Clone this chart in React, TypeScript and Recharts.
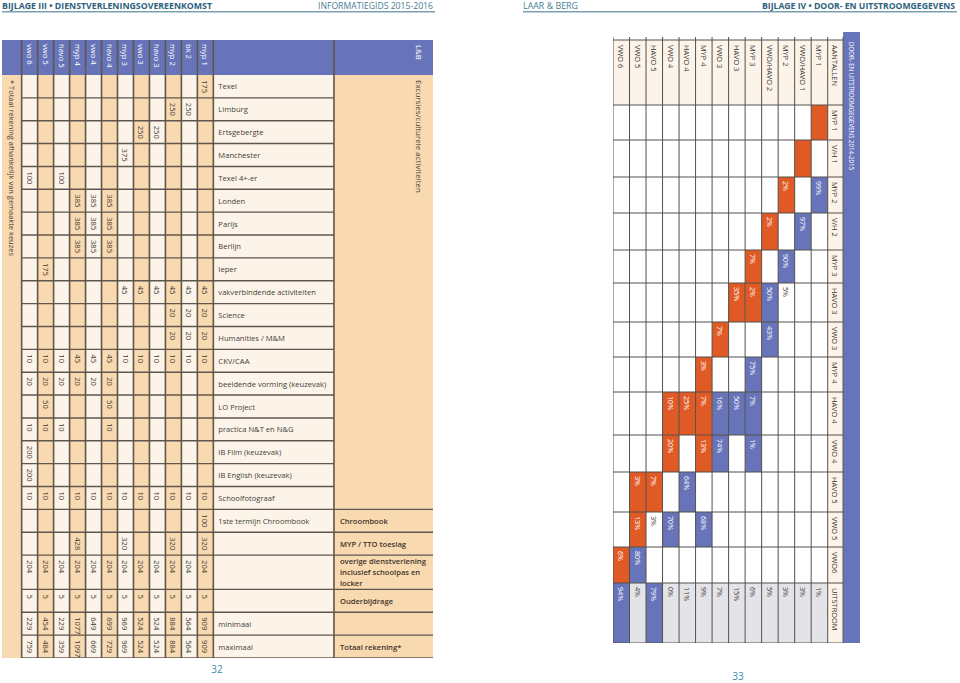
import React from "react";
import { ScatterChart, Scatter, XAxis, YAxis, ReferenceArea, ReferenceLine } from "recharts";

const FONT = "'Open Sans', 'Noto Sans', sans-serif";
const BLUE = "#6874b9";
const PEACH = "#f9d9b0";
const CREAM = "#fdf4e9";
const INK = "#433c36";
const RULE = "#5f564e";
const ORANGE = "#e05a26";
const GREY = "#e3e4e7";
const TEAL = "#2d6280";

const _ = null;

// ---- Bijlage III: kosten per leerjaar (kolommen links -> rechts) ----
const CLASSES = ["vwo 6", "vwo 5", "havo 5", "myp 4", "vwo 4", "havo 4", "myp 3", "vwo 3", "havo 3", "myp 2", "bk 2", "myp 1"];

const ITEMS = [
  "Texel", "Limburg", "Ertsgebergte", "Manchester", "Texel 4+-er", "Londen", "Parijs", "Berlijn", "Ieper",
  "vakverbindende activiteiten", "Science", "Humanities / M&M", "CKV/CAA", "beeldende vorming (keuzevak)",
  "LO Project", "practica N&T en N&G", "IB Film (keuzevak)", "IB English (keuzevak)", "Schoolfotograaf",
  "1ste termijn Chroombook", "", "", "", "minimaal", "maximaal",
];

const SECTION_LABELS = ["Chroombook", "MYP / TTO toeslag", "overige dienstverlening|inclusief schoolpas en|locker", "Ouderbijdrage", "", "Totaal rekening*"];

const EXCURSIES = [
  [_, _, _, _, _, _, _, _, _, _, _, 175],
  [_, _, _, _, _, _, _, _, _, 250, 250, _],
  [_, _, _, _, _, _, _, 250, 250, _, _, _],
  [_, _, _, _, _, _, 375, _, _, _, _, _],
  [100, _, 100, _, _, _, _, _, _, _, _, _],
  [_, _, _, 385, 385, 385, _, _, _, _, _, _],
  [_, _, _, 385, 385, 385, _, _, _, _, _, _],
  [_, _, _, 385, 385, 385, _, _, _, _, _, _],
  [_, 175, _, _, _, _, _, _, _, _, _, _],
];

const VAKKEN = [
  [_, _, _, _, _, _, 45, 45, 45, 45, 45, 45],
  [_, _, _, _, _, _, _, _, _, 20, 20, 20],
  [_, _, _, _, _, _, _, _, _, 20, 20, 20],
  [10, 10, 10, 45, 45, 45, 10, 10, 10, 10, 10, 10],
  [20, 20, 20, 20, 20, 20, _, _, _, _, _, _],
  [_, 50, _, _, _, 50, _, _, _, _, _, _],
  [10, 10, 10, _, _, 10, _, _, _, _, _, _],
  [200, _, _, _, _, _, _, _, _, _, _, _],
  [200, _, _, _, _, _, _, _, _, _, _, _],
  [10, 10, 10, 10, 10, 10, 10, 10, 10, 10, 10, 10],
];

const VASTE_KOSTEN = [
  [_, _, _, _, _, _, _, _, _, _, _, 100],
  [_, _, _, 428, _, _, 320, _, _, 320, _, 320],
  [204, 204, 204, 204, 204, 204, 204, 204, 204, 204, 204, 204],
  [5, 5, 5, 5, 5, 5, 5, 5, 5, 5, 5, 5],
];

const MINIMAAL = [229, 454, 229, 1077, 649, 699, 969, 524, 524, 884, 564, 909];
const MAXIMAAL = [759, 484, 359, 1097, 669, 729, 969, 524, 524, 884, 564, 909];

// ---- Bijlage IV: door- en uitstroom 2014-2015 ----
const FROM = ["MYP 1", "VWO/HAVO 1", "MYP 2", "VWO/HAVO 2", "MYP 3", "HAVO 3", "VWO 3", "MYP 4", "HAVO 4", "VWO 4", "HAVO 5", "VWO 5", "VWO 6"];
const TO = ["MYP 1", "V/H 1", "MYP 2", "V/H 2", "MYP 3", "HAVO 3", "VWO 3", "MYP 4", "HAVO 4", "VWO 4", "HAVO 5", "VWO 5", "VWO6", "UITSTROOM"];

// [van, naar, label, soort]  soort: stay = oranje, up = blauw, none = wit
const FLOWS: [string, string, string, string][] = [
  ["MYP 1", "MYP 1", "", "stay"], ["MYP 1", "MYP 2", "99%", "up"],
  ["VWO/HAVO 1", "V/H 1", "", "stay"], ["VWO/HAVO 1", "V/H 2", "97%", "up"],
  ["MYP 2", "MYP 2", "2%", "stay"], ["MYP 2", "MYP 3", "90%", "up"], ["MYP 2", "HAVO 3", "5%", "none"],
  ["VWO/HAVO 2", "V/H 2", "2%", "stay"], ["VWO/HAVO 2", "HAVO 3", "50%", "up"], ["VWO/HAVO 2", "VWO 3", "43%", "up"],
  ["MYP 3", "MYP 3", "7%", "stay"], ["MYP 3", "HAVO 3", "2%", "stay"], ["MYP 3", "MYP 4", "75%", "up"], ["MYP 3", "HAVO 4", "7%", "up"], ["MYP 3", "VWO 4", "1%", "up"],
  ["HAVO 3", "HAVO 3", "35%", "stay"], ["HAVO 3", "HAVO 4", "50%", "up"],
  ["VWO 3", "VWO 3", "7%", "stay"], ["VWO 3", "HAVO 4", "16%", "up"], ["VWO 3", "VWO 4", "74%", "up"],
  ["MYP 4", "MYP 4", "3%", "stay"], ["MYP 4", "HAVO 4", "7%", "stay"], ["MYP 4", "VWO 4", "13%", "stay"], ["MYP 4", "VWO 5", "68%", "up"],
  ["HAVO 4", "HAVO 4", "25%", "stay"], ["HAVO 4", "HAVO 5", "64%", "up"],
  ["VWO 4", "HAVO 4", "10%", "stay"], ["VWO 4", "VWO 4", "20%", "stay"], ["VWO 4", "VWO 5", "70%", "up"],
  ["HAVO 5", "HAVO 5", "7%", "stay"], ["HAVO 5", "VWO 5", "3%", "none"],
  ["VWO 5", "HAVO 5", "3%", "stay"], ["VWO 5", "VWO 5", "13%", "stay"], ["VWO 5", "VWO6", "80%", "up"],
  ["VWO 6", "VWO6", "6%", "stay"],
];

const UITSTROOM = [1, 3, 3, 5, 6, 15, 7, 9, 11, 0, 79, 4, 94];
const UITSTROOM_MAIN = ["HAVO 5", "VWO 6"];

// ---------- layout ----------
const cumulative = (sizes: number[]) => {
  const tops: number[] = [];
  sizes.reduce((acc, s) => (tops.push(acc), acc + s), 0);
  return tops;
};

// left table: x in class columns, y in item rows
const L_W = 431;
const L_H = 618;
const LX = { foot: -1.23, label: 12, section: 19.55, end: 25.75, note: 24.9 };
const L_HEAD = -1.53;
const L_ROW_SIZE = ITEMS.map((_, i) => (i === 21 ? 1.5 : 1));
const L_ROW_TOP = cumulative(L_ROW_SIZE);
const L_BOTTOM = L_ROW_TOP[L_ROW_TOP.length - 1] + L_ROW_SIZE[L_ROW_SIZE.length - 1];
const SECTION_START = 19;

// right table: x in origin columns, y in points
const R_W = 247;
const R_H = 611;
const RX = { head: 13, band: 13.93, end: 14.956 };
const R_TOP = -8;
const R_ROW_SIZE = [65, 35, 37, 36, 37, 33, 39, 35, 35, 43, 37, 40, 35, 36, 60];
const R_ROW_TOP = cumulative(R_ROW_SIZE);
const R_BOTTOM = R_ROW_TOP[R_ROW_TOP.length - 1] + R_ROW_SIZE[R_ROW_SIZE.length - 1];

const vLabel = (size: number, fill: string, pad: number, weight = 400) => (p: any) => {
  const { cx, cy, payload } = p;
  const y = cy + pad;
  return (
    <text
      x={cx}
      y={y}
      transform={`rotate(90 ${cx} ${y})`}
      fontSize={size}
      fontWeight={weight}
      fontFamily={FONT}
      fill={payload.fill ?? fill}
      dominantBaseline="central"
      textLength={payload.len}
      lengthAdjust={payload.len ? "spacingAndGlyphs" : undefined}
    >
      {payload.label}
    </text>
  );
};

const hLabel = (size: number, fill: string, pad: number, weight = 400) => (p: any) => {
  const { cx, cy, payload } = p;
  const lines: string[] = payload.label.split("|");
  const lh = size * 1.45;
  return (
    <text x={cx + pad} y={cy - ((lines.length - 1) * lh) / 2} fontSize={size} fontWeight={weight} fontFamily={FONT} fill={fill} dominantBaseline="central">
      {lines.map((t, i) => (
        <tspan key={i} x={cx + pad} dy={i === 0 ? 0 : lh}>
          {t}
        </tspan>
      ))}
    </text>
  );
};

function CostTable() {
  const rows = [...EXCURSIES, ...VAKKEN, ...VASTE_KOSTEN, MINIMAAL, MAXIMAAL];
  const values = rows.flatMap((row, ri) =>
    row.flatMap((v, ci) => (v == null ? [] : [{ x: ci + 0.5, y: L_ROW_TOP[ri], label: String(v) }]))
  );
  const classNames = CLASSES.map((c, i) => ({ x: i + 0.5, y: L_HEAD, label: c }));
  const itemNames = ITEMS.flatMap((t, i) => (t ? [{ x: LX.label, y: L_ROW_TOP[i] + L_ROW_SIZE[i] / 2, label: t }] : []));
  const sectionNames = SECTION_LABELS.flatMap((t, k) => {
    const i = SECTION_START + k;
    return t ? [{ x: LX.section, y: L_ROW_TOP[i] + L_ROW_SIZE[i] / 2, label: t }] : [];
  });
  const notes = [
    { x: LX.note, y: L_HEAD, label: "L&B", fill: "#ffffff" },
    { x: LX.note, y: 0, label: "Excursies/culturele activiteiten", len: 113 },
    { x: LX.foot / 2, y: 0, label: "* Totaal rekening afhankelijk van gemaakte keuzes", len: 176 },
  ];
  const hLines = L_ROW_TOP.slice(1).concat([L_BOTTOM]);

  return (
    <ScatterChart width={L_W} height={L_H} margin={{ top: 0, right: 0, bottom: 0, left: 0 }}>
      <XAxis type="number" dataKey="x" domain={[LX.foot, LX.end]} hide allowDataOverflow />
      <YAxis type="number" dataKey="y" domain={[L_HEAD, L_BOTTOM]} reversed hide allowDataOverflow />
      <ReferenceArea x1={LX.foot} x2={LX.end} y1={L_HEAD} y2={0} fill={BLUE} fillOpacity={1} ifOverflow="visible" />
      <ReferenceArea x1={LX.foot} x2={0} y1={0} y2={L_BOTTOM} fill={PEACH} fillOpacity={1} ifOverflow="visible" />
      {CLASSES.map((c, i) => (
        <ReferenceArea key={c} x1={i} x2={i + 1} y1={0} y2={L_BOTTOM} fill={i % 2 ? PEACH : CREAM} fillOpacity={1} ifOverflow="visible" />
      ))}
      <ReferenceArea x1={LX.label} x2={LX.section} y1={0} y2={L_BOTTOM} fill={CREAM} fillOpacity={1} ifOverflow="visible" />
      <ReferenceArea x1={LX.section} x2={LX.end} y1={0} y2={L_BOTTOM} fill={PEACH} fillOpacity={1} ifOverflow="visible" />
      {hLines.map((y) => (
        <ReferenceLine key={"h" + y} segment={[{ x: 0, y }, { x: LX.section, y }]} stroke={RULE} strokeWidth={1.4} ifOverflow="visible" />
      ))}
      {L_ROW_TOP.slice(SECTION_START).concat([L_BOTTOM]).map((y) => (
        <ReferenceLine key={"s" + y} segment={[{ x: LX.section, y }, { x: LX.end, y }]} stroke={RULE} strokeWidth={1.4} ifOverflow="visible" />
      ))}
      {CLASSES.map((_, i) => i)
        .concat([CLASSES.length, LX.section])
        .map((x) => (
          <ReferenceLine key={"v" + x} segment={[{ x, y: L_HEAD }, { x, y: L_BOTTOM }]} stroke={RULE} strokeWidth={1.6} ifOverflow="visible" />
        ))}
      <Scatter data={classNames} shape={vLabel(7.6, "#ffffff", 4)} isAnimationActive={false} />
      <Scatter data={values} shape={vLabel(7.6, INK, 5)} isAnimationActive={false} />
      <Scatter data={itemNames} shape={hLabel(7.6, INK, 5)} isAnimationActive={false} />
      <Scatter data={sectionNames} shape={hLabel(7.6, "#3e342c", 6, 600)} isAnimationActive={false} />
      <Scatter data={notes} shape={vLabel(7.8, INK, 5)} isAnimationActive={false} />
    </ScatterChart>
  );
}

function FlowTable() {
  const col = (from: string) => FROM.length - 1 - FROM.indexOf(from);
  const rowTop = (to: string) => R_ROW_TOP[TO.indexOf(to) + 1];
  const rowSize = (to: string) => R_ROW_SIZE[TO.indexOf(to) + 1];
  const fillOf = (kind: string) => (kind === "stay" ? ORANGE : kind === "up" ? BLUE : null);

  const cells = FLOWS.map(([f, t, label, kind]) => ({ f, t, label, kind }));
  const uit = FROM.map((f, i) => ({
    f,
    t: "UITSTROOM",
    label: UITSTROOM[i] + "%",
    kind: UITSTROOM_MAIN.includes(f) ? "up" : "none",
  }));
  const all = [...cells, ...uit];
  const values = all
    .filter((c) => c.label)
    .map((c) => ({ x: col(c.f) + 0.5, y: rowTop(c.t), label: c.label, fill: fillOf(c.kind) ? "#ffffff" : INK }));
  const headMid = (RX.head + RX.band) / 2;
  const fromNames = FROM.map((f) => ({ x: col(f) + 0.5, y: 0, label: f }));
  const toNames = [{ x: headMid, y: 0, label: "AANTALLEN" }].concat(TO.map((t) => ({ x: headMid, y: rowTop(t), label: t })));
  const title = [{ x: (RX.band + RX.end) / 2, y: 0, label: "DOOR- EN UITSTROOMGEGEVENS 2014-2015", len: 128, fill: "#ffffff" }];
  const uitTop = rowTop("UITSTROOM");

  return (
    <ScatterChart width={R_W} height={R_H} margin={{ top: 0, right: 0, bottom: 0, left: 0 }}>
      <XAxis type="number" dataKey="x" domain={[0, RX.end]} hide allowDataOverflow />
      <YAxis type="number" dataKey="y" domain={[R_TOP, R_BOTTOM]} reversed hide allowDataOverflow />
      <ReferenceArea x1={RX.band} x2={RX.end} y1={R_TOP} y2={R_BOTTOM} fill={BLUE} fillOpacity={1} ifOverflow="visible" />
      <ReferenceArea x1={0} x2={RX.band} y1={0} y2={R_ROW_SIZE[0]} fill={CREAM} fillOpacity={1} ifOverflow="visible" />
      <ReferenceArea x1={RX.head} x2={RX.band} y1={0} y2={R_BOTTOM} fill={CREAM} fillOpacity={1} ifOverflow="visible" />
      <ReferenceArea x1={0} x2={RX.head} y1={uitTop} y2={R_BOTTOM} fill={GREY} fillOpacity={1} ifOverflow="visible" />
      {all
        .filter((c) => fillOf(c.kind))
        .map((c) => (
          <ReferenceArea
            key={c.f + c.t}
            x1={col(c.f)}
            x2={col(c.f) + 1}
            y1={rowTop(c.t)}
            y2={rowTop(c.t) + rowSize(c.t)}
            fill={fillOf(c.kind) as string}
            fillOpacity={1}
            ifOverflow="visible"
          />
        ))}
      {R_ROW_TOP.concat([R_BOTTOM]).map((y) => (
        <ReferenceLine key={"h" + y} segment={[{ x: 0, y }, { x: RX.band, y }]} stroke="#55504c" strokeWidth={1} ifOverflow="visible" />
      ))}
      {FROM.map((_, i) => i)
        .concat([FROM.length, RX.band])
        .map((x) => (
          <ReferenceLine key={"v" + x} segment={[{ x, y: -3 }, { x, y: R_BOTTOM }]} stroke="#55504c" strokeWidth={1} ifOverflow="visible" />
        ))}
      <Scatter data={fromNames} shape={vLabel(7.4, "#333333", 5)} isAnimationActive={false} />
      <Scatter data={toNames} shape={vLabel(7.4, "#333333", 5)} isAnimationActive={false} />
      <Scatter data={values} shape={vLabel(7.2, INK, 4)} isAnimationActive={false} />
      <Scatter data={title} shape={vLabel(7.4, "#ffffff", 2)} isAnimationActive={false} />
    </ScatterChart>
  );
}

function PageFurniture() {
  return (
    <svg width={960} height={683} style={{ position: "absolute", left: 0, top: 0 }}>
      <g fontFamily={FONT} fontSize={8.6}>
        <text x={2} y={8.6} fontWeight={700} fill={TEAL} textLength={210} lengthAdjust="spacingAndGlyphs">
          BIJLAGE III • DIENSTVERLENINGSOVEREENKOMST
        </text>
        <text x={318} y={8.6} fill="#477c96" textLength={115} lengthAdjust="spacingAndGlyphs">
          INFORMATIEGIDS 2015-2016
        </text>
        <text x={523} y={8.6} fill="#477c96" textLength={55} lengthAdjust="spacingAndGlyphs">
          LAAR &amp; BERG
        </text>
        <text x={762} y={8.6} fontWeight={700} fill={TEAL} textLength={193} lengthAdjust="spacingAndGlyphs">
          BIJLAGE IV • DOOR- EN UITSTROOMGEGEVENS
        </text>
      </g>
      <line x1={2} x2={435} y1={11.8} y2={11.8} stroke="#7d9fb2" strokeWidth={1.4} />
      <line x1={523} x2={957} y1={11.8} y2={11.8} stroke="#7d9fb2" strokeWidth={1.4} />
      <text x={217} y={673} textAnchor="middle" fontFamily={FONT} fontSize={10} fill="#3a8db0">
        32
      </text>
      <text x={738} y={680} textAnchor="middle" fontFamily={FONT} fontSize={10} fill="#3a8db0">
        33
      </text>
    </svg>
  );
}

export default function App() {
  return (
    <div style={{ position: "relative", width: 960, height: 683, background: "#ffffff", overflow: "hidden" }}>
      <style>{"body{margin:0}"}</style>
      <div style={{ position: "absolute", left: 2, top: 40 }}>
        <CostTable />
      </div>
      <div style={{ position: "absolute", left: 613, top: 32 }}>
        <FlowTable />
      </div>
      <PageFurniture />
    </div>
  );
}
